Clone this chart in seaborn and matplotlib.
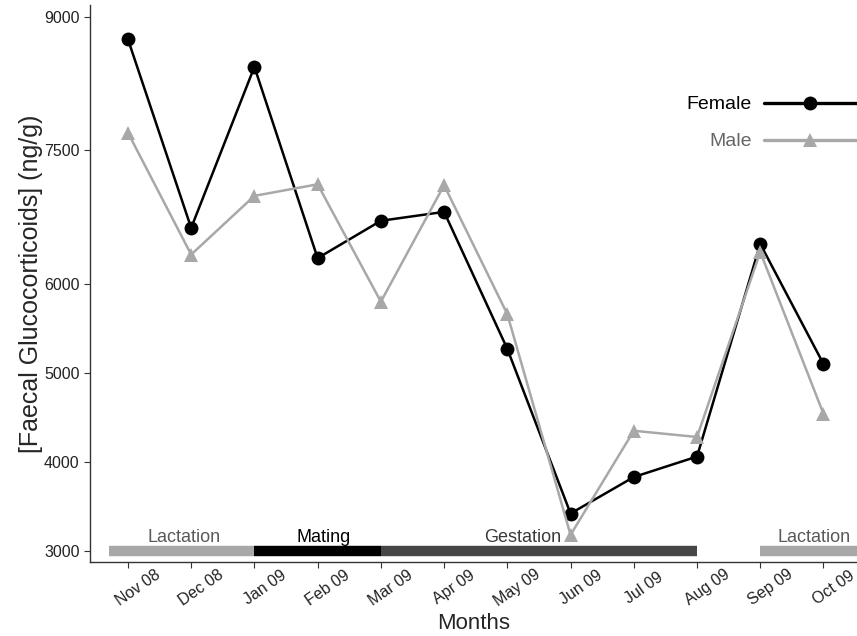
import numpy as np
import pandas as pd
import matplotlib
matplotlib.use('Agg')
import matplotlib.pyplot as plt
import matplotlib.transforms as mtrans
import seaborn as sns

# -------------------------
# Datos
# -------------------------
months = ['Nov 08', 'Dec 08', 'Jan 09', 'Feb 09', 'Mar 09', 'Apr 09',
          'May 09', 'Jun 09', 'Jul 09', 'Aug 09', 'Sep 09', 'Oct 09']
female = [8750, 6630, 8440, 6290, 6710, 6810, 5270, 3420, 3830, 4060, 6450, 5100]
male   = [7700, 6330, 6990, 7120, 5800, 7110, 5660, 3180, 4350, 4280, 6360, 4540]

y_ticks = [3000, 4000, 5000, 6000, 7500, 9000]

# fases reproductivas (inicio, fin en posiciones de mes)
phase_names  = ['Lactation', 'Mating', 'Gestation', 'Lactation']
phase_start  = [-0.3, 2.0, 4.0, 10.0]
phase_end    = [2.0, 4.0, 9.0, 11.7]
phase_colors = ['#a8a8a8', '#000000', '#464646', '#a8a8a8']
phase_text_colors = ['#595959', '#000000', '#3a3a3a', '#595959']
phase_label_x = [0.88, 3.1, 6.24, 10.85]

df = pd.DataFrame({
    'pos': list(range(len(months))) * 2,
    'value': female + male,
    'sex': ['Female'] * len(months) + ['Male'] * len(months),
})

# -------------------------
# Gráfico
# -------------------------
sns.set_style('white')
plt.rcParams['font.family'] = ['Liberation Sans', 'DejaVu Sans']

fig = plt.figure(figsize=(8.57, 6.36), dpi=100)
ax = fig.add_axes([90/857, 1 - 562/636, 1 - 90/857, (562 - 5)/636])

sns.lineplot(data=df, x='pos', y='value', hue='sex', style='sex',
             palette={'Female': 'black', 'Male': '#a8a8a8'},
             markers={'Female': 'o', 'Male': '^'}, dashes=False,
             markersize=10, markeredgewidth=0, linewidth=1.8, ax=ax)

for s, e, c in zip(phase_start, phase_end, phase_colors):
    ax.plot([s, e], [3000, 3000], color=c, lw=7.5, solid_capstyle='butt', zorder=1)
for name, xp, tc in zip(phase_names, phase_label_x, phase_text_colors):
    ax.text(xp, 3060, name, ha='center', va='bottom', fontsize=13, color=tc)

ax.set_xlim(-0.6, 11.53)
ax.set_ylim(2875, 9135)
ax.tick_params(axis='both', length=4, width=0.8, color='#333333', bottom=True, left=True)
ax.set_yticks(y_ticks)
ax.set_yticklabels([str(t) for t in y_ticks], fontsize=11.5, color='#222222')
ax.set_xticks(range(len(months)))
ax.set_xticklabels(months, rotation=35, ha='center', va='top', rotation_mode='anchor',
                   fontsize=11.5, color='#222222')
# desplazar etiquetas del eje x (después de tick_params, que reinicia transformaciones)
shift = mtrans.ScaledTranslation(6/100, -9/100, fig.dpi_scale_trans)
for lab in ax.get_xticklabels():
    lab.set_transform(lab.get_transform() + shift)

for side in ['top', 'right']:
    ax.spines[side].set_visible(False)
for side in ['left', 'bottom']:
    ax.spines[side].set_color('#333333')
    ax.spines[side].set_linewidth(1.0)

ax.set_xlabel('Months', fontsize=16, labelpad=3)
ax.set_ylabel('[Faecal Glucocorticoids] (ng/g)', fontsize=18, labelpad=1)

leg = ax.legend(loc='upper right', bbox_to_anchor=(1.0, 0.837), frameon=False,
                markerfirst=False, fontsize=14, handlelength=4.8, handletextpad=0.6,
                labelspacing=1.0, borderaxespad=0, borderpad=0, title=None)
for txt, col in zip(leg.get_texts(), ['black', '#666666']):
    txt.set_color(col)
for ln in leg.get_lines():
    ln.set_linewidth(2.4)

plt.savefig('out.png', dpi=100)
plt.close()
